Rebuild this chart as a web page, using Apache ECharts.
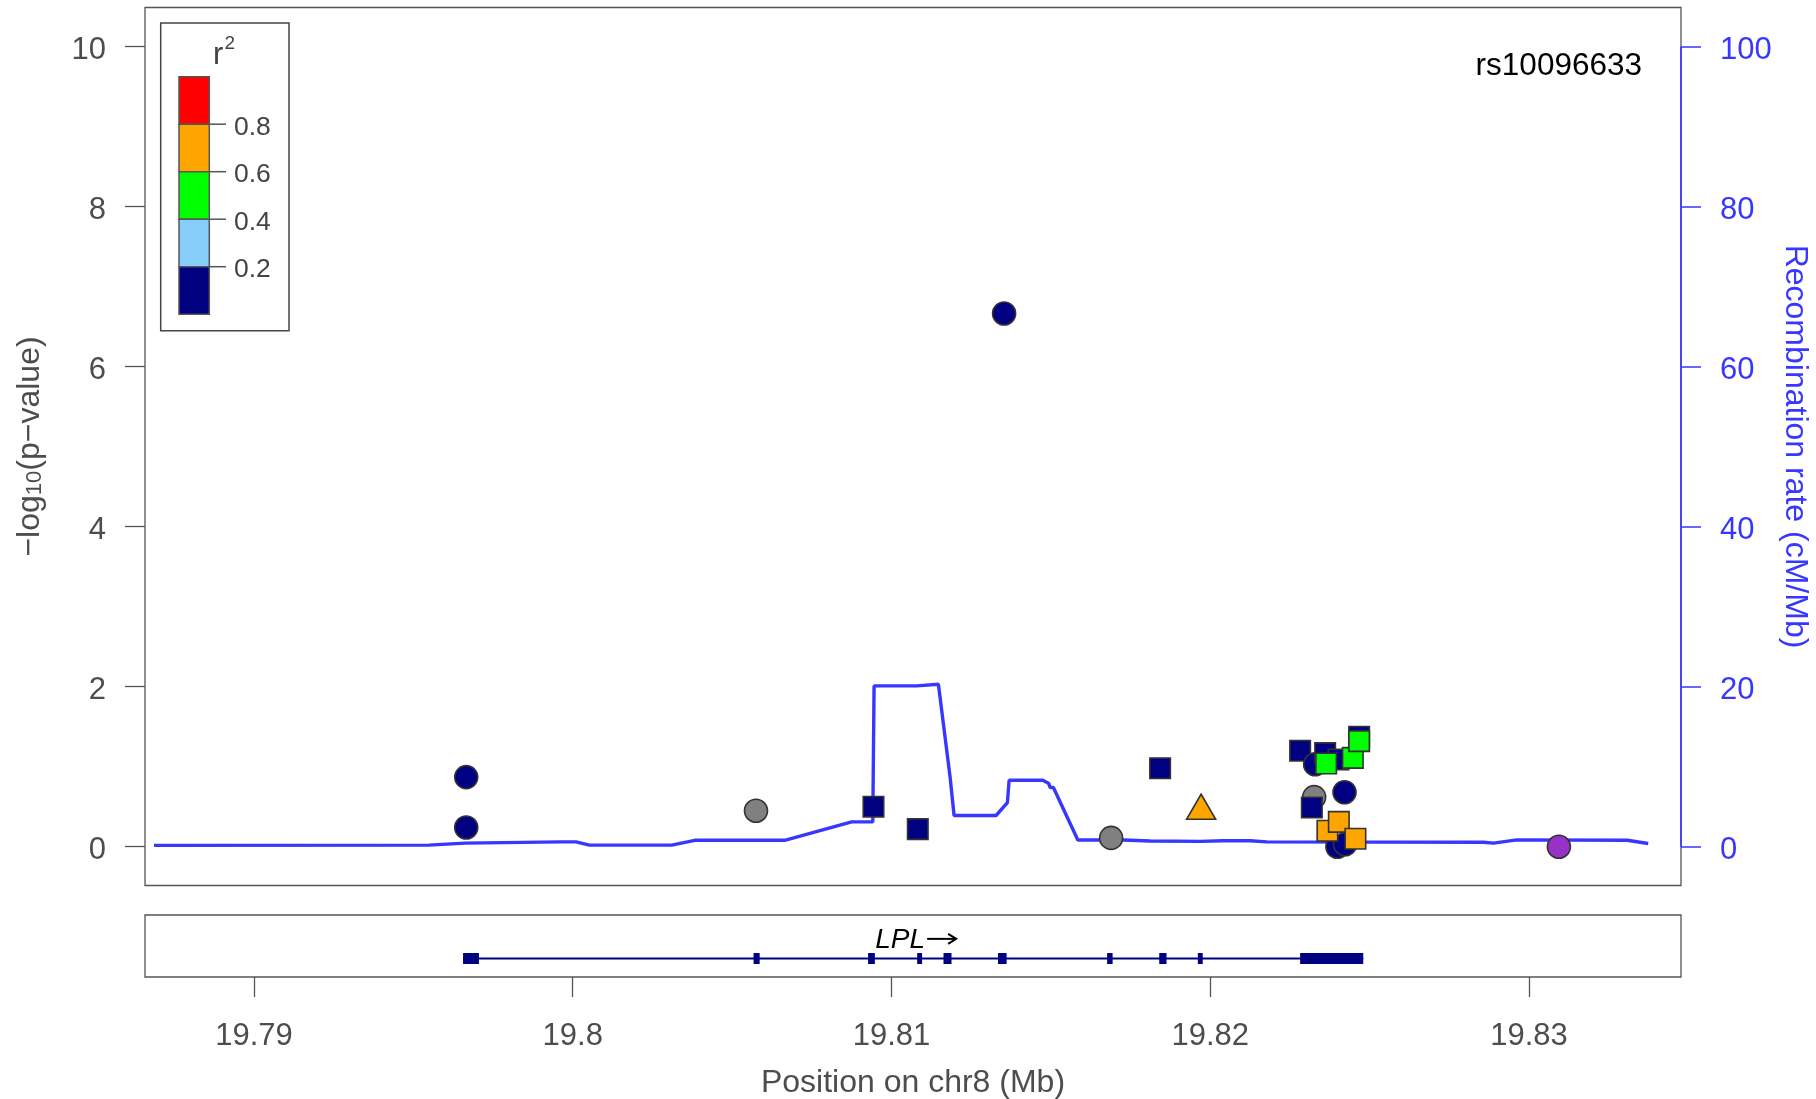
<!DOCTYPE html>
<html><head><meta charset="utf-8">
<script src="https://cdn.jsdelivr.net/npm/echarts@6/dist/echarts.min.js"></script>
<style>html,body{margin:0;padding:0;background:#fff}#c{width:1816px;height:1099px}</style>
</head><body><div id="c"></div>
<script>
// ---- data ----
const refSnp = 'rs10096633';
// SNPs, in drawing order (NA first, then by r2)
const snpPos = [19.805749, 19.816891, 19.823261,
  19.796658, 19.796658, 19.809435, 19.810825, 19.813533, 19.818428, 19.822821, 19.823292, 19.823606, 19.824024, 19.824672, 19.823188, 19.824213, 19.823990, 19.824231,
  19.823637, 19.824474, 19.824672,
  19.819714, 19.823677, 19.824035, 19.824556,
  19.830939];
const snpLogP = [0.45, 0.11, 0.62,
  0.87, 0.24, 0.50, 0.22, 6.665, 0.98, 1.20, 1.03, 1.17, 1.09, 1.375, 0.49, 0.68, 0.00, 0.03,
  1.04, 1.11, 1.32,
  0.50, 0.20, 0.31, 0.10,
  0.00];
const snpShape = ['circle','circle','circle',
  'circle','circle','square','square','circle','square','square','circle','square','square','square','square','circle','circle','circle',
  'square','square','square',
  'triangle','square','square','square',
  'circle'];
const snpLD = ['NA','NA','NA',
  '0-0.2','0-0.2','0-0.2','0-0.2','0-0.2','0-0.2','0-0.2','0-0.2','0-0.2','0-0.2','0-0.2','0-0.2','0-0.2','0-0.2','0-0.2',
  '0.4-0.6','0.4-0.6','0.4-0.6',
  '0.6-0.8','0.6-0.8','0.6-0.8','0.6-0.8',
  'ref'];
// recombination rate (cM/Mb)
const recombPos = [19.786862, 19.795482, 19.796621, 19.799624, 19.800104, 19.800524, 19.803106, 19.803828, 19.806649, 19.808751, 19.809413,
  19.809454, 19.810794, 19.811472, 19.811839, 19.811964, 19.813282, 19.813637, 19.813690, 19.814747, 19.814935, 19.814976, 19.815080,
  19.815846, 19.817277, 19.818115, 19.819683, 19.820415, 19.821252, 19.821776, 19.828573, 19.828887, 19.829620, 19.833082, 19.833741];
const recombRate = [0.17, 0.2, 0.45, 0.6, 0.6, 0.2, 0.2, 0.8, 0.8, 3.1, 3.1,
  20.1, 20.1, 20.3, 8.7, 3.9, 3.9, 5.5, 8.3, 8.3, 7.9, 7.4, 7.4,
  0.84, 0.84, 0.71, 0.67, 0.75, 0.75, 0.6, 0.55, 0.45, 0.85, 0.8, 0.4];
// gene LPL
const geneName = 'LPL';
const geneStart = 19.796558, geneEnd = 19.824801;
const exonStart = [19.796558, 19.805673, 19.809266, 19.810806, 19.811632, 19.813342, 19.816765, 19.818400, 19.819611, 19.822821];
const exonEnd   = [19.797057, 19.805864, 19.809479, 19.810960, 19.811883, 19.813612, 19.816938, 19.818629, 19.819765, 19.824801];
// ticks
const xTicks = [19.79, 19.80, 19.81, 19.82, 19.83];
const yTicks = [0, 2, 4, 6, 8, 10];
const recombTicks = [0, 20, 40, 60, 80, 100];
const legendLabels = ['0.8', '0.6', '0.4', '0.2'];
const legendColors = ['#FF0000', '#FFA500', '#00FF00', '#87CEFA', '#000080'];

// ---- styling ----
const FONT = '"Liberation Sans", Arial, Helvetica, sans-serif';
const AX = '#555555';
const TXT = '#4d4d4d';
const BLUE = '#3737ff';
const ldColor = {'NA': '#808080', '0-0.2': '#000080', '0.2-0.4': '#87CEFA', '0.4-0.6': '#00FF00', '0.6-0.8': '#FFA500', '0.8-1': '#FF0000', 'ref': '#9632C8'};
const shapeSym = {circle: 'circle', square: 'rect', triangle: 'triangle'};
const shapeSize = {circle: 23, square: 20.5, triangle: [29, 25]};
const XMIN = 19.78658, XMAX = 19.83477;

const chart = echarts.init(document.getElementById('c'), null, {renderer: 'canvas'});

const legendGroup = [];
legendGroup.push({type: 'rect', shape: {x: 160.7, y: 23, width: 128.3, height: 307.7}, style: {fill: '#fff', stroke: '#444', lineWidth: 1.5}});
legendColors.forEach((c, i) => {
  legendGroup.push({type: 'rect', shape: {x: 179, y: 76.7 + 47.5 * i, width: 30.3, height: 47.5}, style: {fill: c, stroke: '#555', lineWidth: 1.5}});
});
legendLabels.forEach((t, i) => {
  const y = 76.7 + 47.5 * (i + 1);
  legendGroup.push({type: 'line', shape: {x1: 209.3, y1: y, x2: 226, y2: y}, style: {stroke: '#555', lineWidth: 1.5}});
  legendGroup.push({type: 'text', x: 234, y: y + 3, style: {text: t, fontFamily: FONT, fontSize: 26.5, fill: '#444', textVerticalAlign: 'middle'}});
});
legendGroup.push({type: 'text', x: 213, y: 55, style: {text: 'r', fontFamily: FONT, fontSize: 31, fill: '#444', textVerticalAlign: 'middle'}});
legendGroup.push({type: 'text', x: 224.5, y: 43.5, style: {text: '2', fontFamily: FONT, fontSize: 19, fill: '#444', textVerticalAlign: 'middle'}});

const option = {
  animation: false,
  backgroundColor: '#fff',
  textStyle: {fontFamily: FONT},
  grid: [
    {left: 145, top: 7.5, width: 1536, height: 878, show: true, borderColor: AX, borderWidth: 1.3, backgroundColor: 'transparent'},
    {left: 145, top: 915, width: 1536, height: 62, show: true, borderColor: AX, borderWidth: 1.3, backgroundColor: 'transparent'}
  ],
  xAxis: [
    {type: 'value', gridIndex: 0, min: XMIN, max: XMAX, axisLine: {show: false}, axisTick: {show: false}, axisLabel: {show: false}, splitLine: {show: false}},
    {type: 'value', gridIndex: 1, min: XMIN, max: XMAX, axisLine: {show: false}, splitLine: {show: false},
      axisTick: {show: true, length: 20, lineStyle: {color: AX, width: 1.3}, customValues: xTicks},
      axisLabel: {show: true, customValues: xTicks, fontSize: 31, color: TXT, fontFamily: FONT, margin: 44,
        formatter: v => String(+(+v).toFixed(4))}}
  ],
  yAxis: [
    {type: 'value', gridIndex: 0, min: -0.485, max: 10.49, axisLine: {show: false}, splitLine: {show: false},
      axisTick: {show: true, length: 20, lineStyle: {color: AX, width: 1.3}, customValues: yTicks},
      axisLabel: {show: false}},
    {type: 'value', gridIndex: 0, position: 'right', min: -4.85, max: 104.9, axisLine: {show: false}, splitLine: {show: false},
      axisTick: {show: true, length: 20, lineStyle: {color: BLUE, width: 1.5}, customValues: recombTicks},
      axisLabel: {show: false}},
    {type: 'value', gridIndex: 1, min: 0, max: 1, show: false}
  ],
  graphic: [
    {type: 'group', children: legendGroup, z: 100},
    {type: 'text', x: 1642, y: 66.5, z: 100, style: {text: refSnp, fontFamily: FONT, fontSize: 31.5, fill: '#000', textAlign: 'right', textVerticalAlign: 'middle'}},
    {type: 'text', x: 913, y: 1083, style: {text: 'Position on chr8 (Mb)', fontFamily: FONT, fontSize: 32, fill: TXT, textAlign: 'center', textVerticalAlign: 'middle'}},
    {type: 'text', x: 30, y: 446.5, rotation: Math.PI / 2, style: {text: '−log{s|10}(p−value)', fontFamily: FONT, fontSize: 32, fill: TXT, textAlign: 'center', textVerticalAlign: 'middle',
      rich: {s: {fontSize: 22, fontFamily: FONT, fill: TXT, verticalAlign: 'bottom', padding: [10, 0, 0, 0]}}}},
    {type: 'text', x: 1795, y: 446.5, rotation: -Math.PI / 2, style: {text: 'Recombination rate (cM/Mb)', fontFamily: FONT, fontSize: 32, fill: BLUE, textAlign: 'center', textVerticalAlign: 'middle'}}
  ],
  series: [
    {type: 'line', xAxisIndex: 0, yAxisIndex: 1, data: recombPos.map((p, i) => [p, recombRate[i]]), showSymbol: false, symbol: 'none',
      lineStyle: {color: BLUE, width: 3.4}, z: 2, clip: true},
    {type: 'scatter', xAxisIndex: 0, yAxisIndex: 0, z: 3,
      data: snpPos.map((p, i) => ({value: [p, snpLogP[i]], symbol: shapeSym[snpShape[i]], symbolSize: shapeSize[snpShape[i]],
        itemStyle: {color: ldColor[snpLD[i]], borderColor: '#333', borderWidth: 1.6, opacity: 1}}))},
    {type: 'line', xAxisIndex: 1, yAxisIndex: 2, data: [[geneStart, 0.298], [geneEnd, 0.298]], showSymbol: false, symbol: 'none',
      lineStyle: {color: '#000080', width: 2.2}, z: 2},
    {type: 'custom', xAxisIndex: 1, yAxisIndex: 2, z: 3, data: exonStart.map((s, i) => [s, exonEnd[i]]),
      renderItem: (params, api) => {
        const a = api.coord([api.value(0), 0.298]);
        const b = api.coord([api.value(1), 0.298]);
        return {type: 'rect', shape: {x: a[0], y: a[1] - 5.5, width: Math.max(b[0] - a[0], 3), height: 11}, style: {fill: '#000080'}};
      }},
    {type: 'custom', xAxisIndex: 1, yAxisIndex: 2, z: 4, data: [[(geneStart + geneEnd) / 2, 0.615]],
      renderItem: (params, api) => {
        const c = api.coord([api.value(0), api.value(1)]);
        const x0 = c[0], y0 = c[1];
        return {type: 'group', children: [
          {type: 'text', x: x0 - 38, y: y0 + 1, style: {text: geneName, fontFamily: FONT, fontSize: 28, fontStyle: 'italic', fill: '#000', textAlign: 'left', textVerticalAlign: 'middle'}},
          {type: 'line', shape: {x1: x0 + 14, y1: y0, x2: x0 + 43, y2: y0}, style: {stroke: '#000', lineWidth: 2}},
          {type: 'polyline', shape: {points: [[x0 + 35, y0 - 5], [x0 + 43, y0], [x0 + 35, y0 + 5]]}, style: {stroke: '#000', lineWidth: 2, fill: null}}
        ]};
      }}
  ]
};
chart.setOption(option);

// axis lines / labels placed from the axes' own scales
const yTop = chart.convertToPixel({yAxisIndex: 1}, recombTicks[recombTicks.length - 1]);
const yBot = chart.convertToPixel({yAxisIndex: 1}, recombTicks[0]);
const xR = chart.convertToPixel({xAxisIndex: 0}, XMAX);
const xL = chart.convertToPixel({xAxisIndex: 0}, XMIN);
const extra = [{type: 'line', z: 50, shape: {x1: xR, y1: yTop, x2: xR, y2: yBot}, style: {stroke: BLUE, lineWidth: 1.6}}];
yTicks.forEach(v => {
  const py = chart.convertToPixel({yAxisIndex: 0}, v);
  extra.push({type: 'text', x: xL - 39, y: py + 3.5, style: {text: String(v), fontFamily: FONT, fontSize: 31, fill: TXT, textAlign: 'right', textVerticalAlign: 'middle'}});
});
recombTicks.forEach(v => {
  const py = chart.convertToPixel({yAxisIndex: 1}, v);
  extra.push({type: 'text', x: xR + 39, y: py + 3.5, style: {text: String(v), fontFamily: FONT, fontSize: 31, fill: BLUE, textAlign: 'left', textVerticalAlign: 'middle'}});
});
chart.setOption({graphic: option.graphic.concat(extra)});
</script>
</body></html>
